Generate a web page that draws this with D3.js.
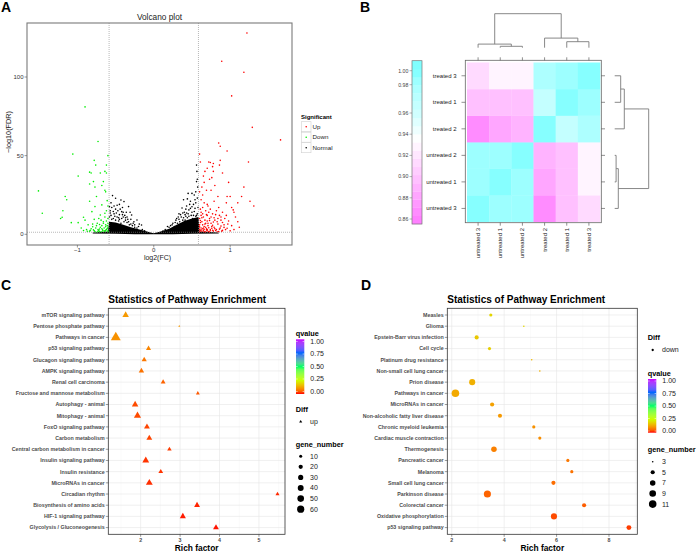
<!DOCTYPE html>
<html><head><meta charset="utf-8">
<script src="https://cdn.jsdelivr.net/npm/d3@7"></script>
<style>body{margin:0;background:#fff}svg{display:block}text{font-family:"Liberation Sans",Arial,Helvetica,sans-serif}</style>
</head><body><svg id="c" width="696" height="552"></svg>
<script>
// ---------------- DATA ----------------
// Panel A: volcano
const volcanoXTicks = [-1, 0, 1];
const volcanoYTicks = [0, 50, 100];
const fcCut = 0.585, fdrCut = 1.3;
const sigLevels = ["Up", "Down", "Normal"];
const upPts = [[1.22,128],[0.89,110],[1.18,103],[1.02,88],[1.29,68],[1.66,60],[0.85,58],[0.87,56],[0.96,53],[1.24,46],[0.6,51],[0.61,46],[0.72,46],[0.78,45],[0.74,45.6],[0.87,47],[0.86,44],[0.77,43],[0.67,40],[0.78,40],[0.9,39],[0.65,37],[0.73,35],[0.8,31],[0.63,30],[0.69,28],[0.75,28],[0.6,27],[1.18,30],[1.15,24],[0.96,24],[1.0,24],[0.84,24],[1.31,18],[1.26,21],[1.04,15.5],[1.02,17],[0.62,22],[0.66,20],[0.7,19],[0.64,17],[0.74,16],[0.68,15],[0.82,15],[0.9,14],[0.62,14],[0.77,13],[0.86,12],[0.95,12],[1.07,11],[0.7,12],[0.65,11],[0.6,10],[0.73,10],[0.8,9],[0.88,9],[0.98,8.5],[1.1,8],[0.63,8],[0.68,7],[0.75,7],[0.84,6.5],[0.92,6],[1.02,5.5],[0.6,6],[0.66,5],[0.71,5.5],[0.79,4.5],[0.87,4],[0.96,3.8],[0.62,4],[0.69,3.5],[0.74,3],[0.82,3],[0.9,2.5],[0.6,3],[0.65,2.5],[0.7,2.2],[0.78,2],[0.85,1.8],[0.63,1.9],[0.68,1.6],[0.73,1.5],[0.61,2.3],[0.66,3.2],[0.72,4.2],[0.77,5.8],[0.83,8],[0.93,10],[1.05,14],[0.71,18],[0.79,21],[0.64,25],[0.98,33],[0.7,42],[0.76,36],[0.66,33],[1.1,20],[0.62,12],[0.67,9],[0.75,11],[0.61,7.5],[0.81,12.5],[0.7,8.5],[0.64,6],[0.77,2.6],[0.88,5.2],[0.94,3],[1.0,2.2],[0.9,7.5],[0.6,4.7],[0.64,13],[0.72,14],[0.85,17],[0.95,20],[0.65,4],[0.69,2.8],[0.76,3.8],[0.81,2.4],[0.86,3.3],[0.92,4.4],[0.67,6.5],[0.73,8.8],[0.79,10.5],[0.61,16],[0.84,10],[0.6,1.5],[0.62,2.8],[0.64,3.5],[0.66,1.7],[0.68,4.5],[0.7,3],[0.72,1.8],[0.74,2.3],[0.76,5],[0.8,3.6],[0.83,1.6],[0.89,2],[0.61,8.8],[0.63,10.5],[0.69,12.5],[0.71,7],[0.78,7.8],[0.88,11],[0.97,6.5],[1.05,3],[1.12,4.5]];
const downPts = [[-0.9,81],[-0.73,59],[-1.06,51],[-0.6,50],[-0.99,37],[-0.78,47],[-0.76,44],[-0.62,44],[-0.84,39.5],[-0.82,39],[-0.7,39],[-0.62,39],[-0.64,40],[-1.51,27.6],[-1.16,24],[-1.14,22],[-0.66,33.5],[-0.79,33.5],[-0.77,30],[-0.84,32],[-0.63,27],[-1.46,13.4],[-1.19,15],[-1.22,10],[-1.2,10.8],[-1.08,7.4],[-0.99,7.4],[-0.68,31],[-0.64,28],[-0.84,21],[-0.75,24],[-0.77,17.6],[-0.68,18.7],[-0.61,21.4],[-0.81,14.4],[-0.7,12.3],[-0.64,13.4],[-0.92,10.8],[-0.9,9],[-0.78,9.5],[-0.6,18],[-0.62,15],[-0.72,10],[-0.66,8],[-0.6,10],[-0.86,6],[-0.8,6.5],[-0.74,7],[-0.68,5.5],[-0.63,6],[-0.6,4.5],[-0.65,4],[-0.7,4.5],[-0.76,4],[-0.82,3.5],[-0.88,3],[-0.62,3],[-0.67,2.8],[-0.72,2.5],[-0.78,2.2],[-0.84,2],[-0.6,2.2],[-0.64,1.8],[-0.69,1.6],[-0.74,1.5],[-0.61,5.5],[-0.66,7],[-0.71,3.4],[-0.63,2.5],[-0.6,1.6],[-0.95,4],[-0.67,2.1],[-0.73,1.9],[-0.79,2.8],[-0.62,8.5],[-0.69,9],[-0.75,5.5],[-0.61,3.6],[-0.63,4.8],[-0.65,2.2],[-0.68,3.5],[-0.71,1.7],[-0.73,3],[-0.77,1.8],[-0.8,4.8],[-0.83,2.6],[-0.6,7],[-0.64,11],[-0.71,6.2],[-0.87,1.9],[-0.92,2.4]];
const normalPts = [[0.56,44],[0.565,40],[0.57,35],[0.56,33.5],[0.575,30],[0.55,27],[0.5,26],[0.45,26],[0.53,25],[0.39,22],[0.48,21],[0.37,16.7],[0.42,16],[0.46,15.5],[0.54,16.5],[0.52,19],[0.33,13],[0.41,12.5],[0.49,12],[0.29,9],[0.33,9.5],[0.38,9],[0.24,6],[0.2,4.5],[0.27,5],[0.44,10.5],[0.5,14],[0.55,20],[0.57,23],[0.36,11],[0.31,7],[0.43,18],[0.51,10],[0.47,8],[0.56,12],[0.58,9.5],[0.15,3],[0.12,2],[0.35,12.5],[0.4,14],[0.45,13],[0.53,14.5],[0.57,13],[0.3,10],[0.25,7],[0.18,5],[0.42,11.5],[0.48,16.5],[0.52,12],[0.55,11.5],[0.46,11.5],[0.39,10.5],[0.34,8],[0.28,7.5],[0.22,5.5],[0.43,13.5],[0.5,17.5],[0.54,22],[0.58,17],[0.47,19],[0.44,22.5],[0.38,13.5],[0.32,11],[0.41,9],[-0.54,24.6],[-0.5,22.9],[-0.43,21.8],[-0.39,20.8],[-0.56,20],[-0.33,17.6],[-0.42,14.4],[-0.29,12.3],[-0.22,9.1],[-0.16,5.9],[-0.55,17],[-0.5,16],[-0.47,15],[-0.4,14],[-0.52,13],[-0.45,12.5],[-0.38,12],[-0.35,11],[-0.56,12],[-0.3,9.5],[-0.33,8],[-0.42,10],[-0.48,11],[-0.27,7],[-0.25,6],[-0.2,5],[-0.37,9],[-0.53,10],[-0.57,15],[-0.44,16],[-0.4,11],[-0.35,7.5],[-0.3,6.5],[-0.22,4],[-0.15,3],[-0.12,2.2],[-0.58,11],[-0.5,9],[-0.46,8.5],[-0.43,7],[-0.28,5.5],[-0.48,18.5],[-0.36,14],[-0.55,9.5],[-0.51,11.5],[-0.45,9.5],[-0.39,8],[-0.32,6],[-0.25,4.5],[-0.57,13.5],[-0.53,14.5],[-0.49,13.5],[-0.46,10.5],[-0.41,12.5],[-0.37,10.5],[-0.34,9.5],[-0.26,8],[-0.19,6.5],[-0.58,17.5],[-0.52,18],[-0.45,19],[-0.41,17],[-0.31,14]];
const normalCoreTop = [[-0.8,1.1],[-0.6,1.8],[-0.585,8],[-0.5,7.5],[-0.4,6],[-0.3,4.5],[-0.2,3.2],[-0.1,2],[-0.03,1],[0,0.6],[0.04,1.2],[0.1,2],[0.2,3.5],[0.3,6],[0.4,8.5],[0.5,10],[0.585,11],[0.6,1.8],[0.85,1.1]];
const normalCoreBottom = [[0.85,0.5],[0.5,0.3],[0.25,0.1],[0,0],[-0.25,0.1],[-0.5,0.3],[-0.8,0.5]];

// Panel B: correlation heatmap
const heatSamples = ["untreated 3","untreated 1","untreated 2","treated 2","treated 1","treated 3"];
const corrMatrix = [
  [1.000,0.985,0.985,0.870,0.895,0.915],
  [0.985,1.000,0.990,0.885,0.895,0.925],
  [0.985,0.990,1.000,0.890,0.895,0.925],
  [0.870,0.885,0.890,1.000,0.965,0.975],
  [0.895,0.895,0.895,0.965,1.000,0.980],
  [0.915,0.925,0.925,0.975,0.980,1.000]
];
const heatKeyTicks = [0.86,0.88,0.90,0.92,0.94,0.96,0.98,1.00];
const dendroMerges = [["untreated 1","untreated 2",0.007],["untreated 3","m0",0.018],["treated 1","treated 3",0.03],["treated 2","m2",0.048],["m1","m3",0.17]];

// Panel C: up pathways
const cCategories = ["mTOR signaling pathway","Pentose phosphate pathway","Pathways in cancer","p53 signaling pathway","Glucagon signaling pathway","AMPK signaling pathway","Renal cell carcinoma","Fructose and mannose metabolism","Autophagy - animal","Mitophagy - animal","FoxO signaling pathway","Carbon metabolism","Central carbon metabolism in cancer","Insulin signaling pathway","Insulin resistance","MicroRNAs in cancer","Circadian rhythm","Biosynthesis of amino acids","HIF-1 signaling pathway","Glycolysis / Gluconeogenesis"];
const cRichFactor = [1.62,2.98,1.37,2.2,2.09,2.02,2.57,3.45,1.86,1.92,2.16,2.22,2.73,2.13,2.51,2.22,5.47,3.43,3.07,3.91];
const cGeneNumber = [26,3,63,16,16,18,14,9,26,32,21,21,12,29,14,29,10,21,23,21];
const cQvalue = [0.11,0.11,0.10,0.085,0.07,0.065,0.05,0.04,0.03,0.03,0.025,0.025,0.02,0.015,0.015,0.012,0.01,0.008,0.005,0.003];
const cXTicks = [2,3,4,5];
const cSizeBreaks = [10,20,30,40,50,60];
// Panel D: down pathways
const dCategories = ["Measles","Glioma","Epstein-Barr virus infection","Cell cycle","Platinum drug resistance","Non-small cell lung cancer","Prion disease","Pathways in cancer","MicroRNAs in cancer","Non-alcoholic fatty liver disease","Chronic myeloid leukemia","Cardiac muscle contraction","Thermogenesis","Pancreatic cancer","Melanoma","Small cell lung cancer","Parkinson disease","Colorectal cancer","Oxidative phosphorylation","p53 signaling pathway"];
const dRichFactor = [3.49,4.75,2.95,3.44,5.05,5.36,2.78,2.14,3.54,3.84,5.13,5.36,3.61,6.43,6.58,5.88,3.36,7.05,5.9,8.76];
const dGeneNumber = [4,3,5,4,3,3,8,11,5,5,4,4,7,4,4,5,10,5,8,6];
const dQvalue = [0.19,0.19,0.17,0.18,0.15,0.14,0.14,0.13,0.12,0.11,0.10,0.095,0.08,0.07,0.065,0.06,0.05,0.045,0.03,0.02];
const dXTicks = [2,4,6,8];
const dSizeBreaks = [3,5,7,9,11];
const qTicks = [0,0.25,0.5,0.75,1];
const rainbow5 = ["#FF0000","#CCFF00","#00FF66","#0066FF","#CC00FF"];

// ---------------- DRAW ----------------
const svg = d3.select("#c");
svg.append("rect").attr("width",696).attr("height",552).attr("fill","#fff");
const FONT = '"Liberation Sans", Arial, Helvetica, sans-serif';
function txt(g,x,y,s,o){o=o||{};const t=g.append("text").attr("x",x).attr("y",y).text(s)
  .attr("font-family",FONT).attr("font-size",o.size||6).attr("fill",o.fill||"#000").attr("text-anchor",o.anchor||"start");
  if(o.bold)t.attr("font-weight","bold"); if(o.transform)t.attr("transform",o.transform); return t;}

// panel letters
[["A",1,12],["B",360,12],["C",1,290],["D",361,290]].forEach(d=>txt(svg,d[1],d[2],d[0],{size:14,bold:true}));

// ===== Panel A =====
(function(){
  const g = svg.append("g");
  const X0=27,X1=292,Y0=23,Y1=245;
  const x = d3.scaleLinear().domain([-1.66,1.81]).range([X0,X1]);
  const y = d3.scaleLinear().domain([0,100]).range([234.3,77]);
  const col = {Up:"#ff0000",Down:"#00ee00",Normal:"#000"};
  const poly = normalCoreTop.concat(normalCoreBottom);
  g.append("path").attr("d", d3.line().x(d=>x(d[0])).y(d=>y(d[1]))(poly)+"Z").attr("fill","#000");
  const drawPts=(arr,c)=>g.append("g").selectAll("circle").data(arr).join("circle")
     .attr("cx",d=>x(d[0])).attr("cy",d=>y(d[1])).attr("r",0.8).attr("fill",c);
  drawPts(normalPts,col.Normal); drawPts(downPts,col.Down); drawPts(upPts,col.Up);
  [-fcCut,fcCut].forEach(v=>g.append("line").attr("x1",x(v)).attr("x2",x(v)).attr("y1",Y0).attr("y2",Y1)
     .attr("stroke","#888").attr("stroke-width",0.6).attr("stroke-dasharray","1,1"));
  g.append("line").attr("x1",X0).attr("x2",X1).attr("y1",y(fdrCut)).attr("y2",y(fdrCut))
     .attr("stroke","#888").attr("stroke-width",0.6).attr("stroke-dasharray","1,1");
  g.append("rect").attr("x",X0).attr("y",Y0).attr("width",X1-X0).attr("height",Y1-Y0)
     .attr("fill","none").attr("stroke","#7a7a7a").attr("stroke-width",1.1);
  volcanoYTicks.forEach(v=>{g.append("line").attr("x1",X0-2.5).attr("x2",X0).attr("y1",y(v)).attr("y2",y(v)).attr("stroke","#555").attr("stroke-width",0.6);
     txt(g,X0-3.5,y(v)+2,v,{size:6,anchor:"end",fill:"#333"});});
  volcanoXTicks.forEach(v=>{g.append("line").attr("x1",x(v)).attr("x2",x(v)).attr("y1",Y1).attr("y2",Y1+2.5).attr("stroke","#555").attr("stroke-width",0.6);
     txt(g,x(v),Y1+6.8,v===-1?"\u22121":v,{size:6,anchor:"middle",fill:"#333"});});
  txt(g,(X0+X1)/2,20,"Volcano plot",{size:8.3,anchor:"middle",fill:"#222"});
  txt(g,(X0+X1)/2-2,259.8,"log2(FC)",{size:7,anchor:"middle",fill:"#222"});
  txt(g,0,0,"\u2212log10(FDR)",{size:7.3,anchor:"middle",fill:"#222",transform:"translate(11.3,132) rotate(-90)"});
  txt(g,301,119,"Significant",{size:6,bold:true});
  sigLevels.forEach((s,i)=>{const cy=126.7+i*10.5;
    g.append("rect").attr("x",301.5).attr("y",cy-5).attr("width",9.5).attr("height",10).attr("fill","#fff").attr("stroke","#d0d0d0").attr("stroke-width",0.6);
    g.append("circle").attr("cx",306.2).attr("cy",cy).attr("r",0.8).attr("fill",col[s]);
    txt(g,312.6,cy+2.1,s,{size:6.2,fill:"#222"});});
})();

// ===== Panel B =====
(function(){
  const g = svg.append("g");
  const rowsTopDown = heatSamples.slice().reverse();
  const hx = d3.scaleBand().domain(heatSamples).range([467,600]);
  const hy = d3.scaleBand().domain(rowsTopDown).range([62.5,221.7]);
  const keyY = d3.scaleLinear().domain([0.86,0.96,0.98,1.0]).range([219,113,84.7,70.7]);
  const heatColor = d3.scaleLinear().domain([0.86,0.935,1.0]).range(["#ff80ff","#ffffff","#80ffff"]).clamp(true);
  const KT=60.7,KB=224,NB=20,bh=(KB-KT)/NB;
  const bandOf = v=>Math.max(0,Math.min(NB-1,Math.floor((KB-keyY(v))/bh)));
  const bandColor = i=>heatColor(keyY.invert(KB-(i+0.5)*bh));
  heatSamples.forEach((r,i)=>heatSamples.forEach((c,j)=>{
    g.append("rect").attr("x",hx(c)).attr("y",hy(r)).attr("width",hx.bandwidth()+0.3).attr("height",hy.bandwidth()+0.3)
     .attr("fill",bandColor(bandOf(corrMatrix[i][j])));
  }));
  g.append("rect").attr("x",465.3).attr("y",60.3).attr("width",136).attr("height",162.4).attr("fill","none").attr("stroke","#666").attr("stroke-width",0.8);
  heatSamples.forEach(s=>{
    const cx=hx(s)+hx.bandwidth()/2, cy=hy(s)+hy.bandwidth()/2;
    g.append("line").attr("x1",cx).attr("x2",cx).attr("y1",57.3).attr("y2",60.3).attr("stroke","#444").attr("stroke-width",0.6);
    g.append("line").attr("x1",cx).attr("x2",cx).attr("y1",222.7).attr("y2",225.7).attr("stroke","#444").attr("stroke-width",0.6);
    g.append("line").attr("x1",461.5).attr("x2",465.3).attr("y1",cy).attr("y2",cy).attr("stroke","#444").attr("stroke-width",0.6);
    g.append("line").attr("x1",601.3).attr("x2",605).attr("y1",cy).attr("y2",cy).attr("stroke","#444").attr("stroke-width",0.6);
    txt(g,456.5,cy+2,s,{size:6,anchor:"end",fill:"#222"});
    txt(g,0,0,s,{size:6,anchor:"end",fill:"#222",transform:`translate(${cx+2},228) rotate(-90)`});
  });
  d3.range(NB).forEach(i=>g.append("rect").attr("x",412).attr("y",KB-(i+1)*bh).attr("width",10).attr("height",bh+0.2).attr("fill",bandColor(i)));
  g.append("rect").attr("x",412).attr("y",KT).attr("width",10).attr("height",KB-KT).attr("fill","none").attr("stroke","#777").attr("stroke-width",0.7);
  heatKeyTicks.forEach(v=>{g.append("line").attr("x1",409.5).attr("x2",412).attr("y1",keyY(v)).attr("y2",keyY(v)).attr("stroke","#666").attr("stroke-width",0.5);
    txt(g,408.3,keyY(v)+1.8,v.toFixed(2),{size:5.2,anchor:"end",fill:"#444"});});
  const dTop = d3.scaleLinear().domain([0,0.17]).range([47.7,13.7]);
  const dRight = d3.scaleLinear().domain([0,0.17]).range([614.7,648.7]);
  ["top","right"].forEach(orient=>{
    const pos={},ht={};
    heatSamples.forEach(s=>{pos[s]=orient==="top"?hx(s)+hx.bandwidth()/2:hy(s)+hy.bandwidth()/2;ht[s]=0;});
    dendroMerges.forEach((m,i)=>{const [a,b,h]=m,pa=pos[a],pb=pos[b];
      const d = orient==="top"?`M${pa},${dTop(ht[a])}V${dTop(h)}H${pb}V${dTop(ht[b])}`:`M${dRight(ht[a])},${pa}H${dRight(h)}V${pb}H${dRight(ht[b])}`;
      g.append("path").attr("d",d).attr("fill","none").attr("stroke","#7a7a7a").attr("stroke-width",0.9);
      pos["m"+i]=(pa+pb)/2; ht["m"+i]=h;});
  });
})();

// ===== Panels C & D =====
const qColor = d3.scaleLinear().domain([0,0.25,0.5,0.75,1]).range(rainbow5).interpolate(d3.interpolateLab);
function sizeR(n,ext,k){return k*(2.845*Math.sqrt(1+35*(n-ext[0])/(ext[1]-ext[0]))+0.945);}
let gradId=0;
function qBar(g,x,yTop,yBot,v0,v1){
  const id="qg"+(gradId++);
  const lg=svg.append("defs").append("linearGradient").attr("id",id).attr("x1",0).attr("x2",0).attr("y1",0).attr("y2",1);
  d3.range(0,1.0001,0.05).forEach(t=>lg.append("stop").attr("offset",t).attr("stop-color",qColor(1-t)));
  g.append("rect").attr("x",x).attr("y",yTop).attr("width",8.3).attr("height",yBot-yTop).attr("fill",`url(#${id})`);
  const qy=d3.scaleLinear().domain([0,1]).range([v0,v1]);
  qTicks.forEach(v=>{
    g.append("line").attr("x1",x).attr("x2",x+1.7).attr("y1",qy(v)).attr("y2",qy(v)).attr("stroke","#fff").attr("stroke-width",0.5);
    g.append("line").attr("x1",x+6.6).attr("x2",x+8.3).attr("y1",qy(v)).attr("y2",qy(v)).attr("stroke","#fff").attr("stroke-width",0.5);
    txt(g,x+14.3,qy(v)+2.4,v.toFixed(2),{size:7,fill:"#222"});});
}
function enrich(cfg){
  const g=svg.append("g");
  const {X0,X1,Y0,Y1}=cfg;
  const x=d3.scaleLinear().domain(cfg.xdom).range([X0,X1]);
  const y=d3.scalePoint().domain(cfg.cats).range([Y0,Y1]).padding(0.6);
  const ext=d3.extent(cfg.genes);
  const step=cfg.ticks[1]-cfg.ticks[0];
  const minors=[cfg.ticks[0]-step/2].concat(cfg.ticks.map(t=>t+step/2)).filter(v=>v>cfg.xdom[0]&&v<cfg.xdom[1]);
  minors.forEach(v=>g.append("line").attr("x1",x(v)).attr("x2",x(v)).attr("y1",Y0).attr("y2",Y1).attr("stroke","#f2f2f2").attr("stroke-width",0.4));
  cfg.ticks.forEach(v=>g.append("line").attr("x1",x(v)).attr("x2",x(v)).attr("y1",Y0).attr("y2",Y1).attr("stroke","#e6e6e6").attr("stroke-width",0.6));
  cfg.cats.forEach(c=>g.append("line").attr("x1",X0).attr("x2",X1).attr("y1",y(c)).attr("y2",y(c)).attr("stroke","#e6e6e6").attr("stroke-width",0.6));
  cfg.cats.forEach((c,i)=>{
    const r=sizeR(cfg.genes[i],ext,cfg.k);
    if(cfg.shape==="triangle") g.append("path").attr("d",d3.symbol(d3.symbolTriangle,Math.PI*r*r)()).attr("transform",`translate(${x(cfg.rich[i])},${y(c)})`).attr("fill",qColor(cfg.q[i]));
    else g.append("circle").attr("cx",x(cfg.rich[i])).attr("cy",y(c)).attr("r",r).attr("fill",qColor(cfg.q[i]));
  });
  g.append("rect").attr("x",X0).attr("y",Y0).attr("width",X1-X0).attr("height",Y1-Y0).attr("fill","none").attr("stroke","#333").attr("stroke-width",0.8);
  cfg.cats.forEach(c=>{g.append("line").attr("x1",X0-2.5).attr("x2",X0).attr("y1",y(c)).attr("y2",y(c)).attr("stroke","#333").attr("stroke-width",0.5);
    txt(g,X0-3.6,y(c)+1.9,c,{size:5.3,bold:true,anchor:"end",fill:"#4d4d4d"});});
  cfg.ticks.forEach(v=>{g.append("line").attr("x1",x(v)).attr("x2",x(v)).attr("y1",Y1).attr("y2",Y1+2.5).attr("stroke","#333").attr("stroke-width",0.5);
    txt(g,x(v),Y1+7.3,v,{size:5.3,bold:true,anchor:"middle",fill:"#4d4d4d"});});
  txt(g,X0,303.2,"Statistics of Pathway Enrichment",{size:10,bold:true});
  txt(g,(X0+X1)/2,550.5,"Rich factor",{size:8.4,bold:true,anchor:"middle"});
  const L=cfg.leg;
  txt(g,L.x,L.qTitle,"qvalue",{size:7.3,bold:true});
  qBar(g,L.x+0.3,L.qBar[0],L.qBar[1],L.qBar[2],L.qBar[3]);
  txt(g,L.x,L.dTitle,"Diff",{size:7.3,bold:true});
  const dr=1.15;
  if(cfg.shape==="triangle") g.append("path").attr("d",d3.symbol(d3.symbolTriangle,Math.PI*dr*dr)()).attr("transform",`translate(${L.x+5},${L.dItem})`).attr("fill","#000");
  else g.append("circle").attr("cx",L.x+5).attr("cy",L.dItem).attr("r",dr).attr("fill","#000");
  txt(g,L.x+14.3,L.dItem+2.4,cfg.diff,{size:7,fill:"#222"});
  txt(g,L.x,L.gTitle,"gene_number",{size:7.3,bold:true});
  cfg.breaks.forEach((b,i)=>{const cy=L.gItem+i*10.6;
    g.append("circle").attr("cx",L.x+5).attr("cy",cy).attr("r",sizeR(b,ext,cfg.k)).attr("fill","#000");
    txt(g,L.x+14.3,cy+2.4,b,{size:7,fill:"#222"});});
}
enrich({X0:108.3,X1:285,Y0:308.3,Y1:534.3,xdom:[1.18,5.66],cats:cCategories,rich:cRichFactor,genes:cGeneNumber,q:cQvalue,ticks:cXTicks,
  shape:"triangle",k:0.205,diff:"up",breaks:cSizeBreaks,
  leg:{x:295.7,qTitle:335.5,qBar:[339.3,394,391.5,341.5],dTitle:412,dItem:421.7,gTitle:446.5,gItem:456.2}});
enrich({X0:447.3,X1:637.3,Y0:308.3,Y1:534.3,xdom:[1.83,9.08],cats:dCategories,rich:dRichFactor,genes:dGeneNumber,q:dQvalue,ticks:dXTicks,
  shape:"circle",k:0.21,diff:"down",breaks:dSizeBreaks,
  leg:{x:647.7,qTitle:375.5,qBar:[379,432.7,431,381],dTitle:340.3,dItem:350,gTitle:451.8,gItem:461.7}});
</script></body></html>
